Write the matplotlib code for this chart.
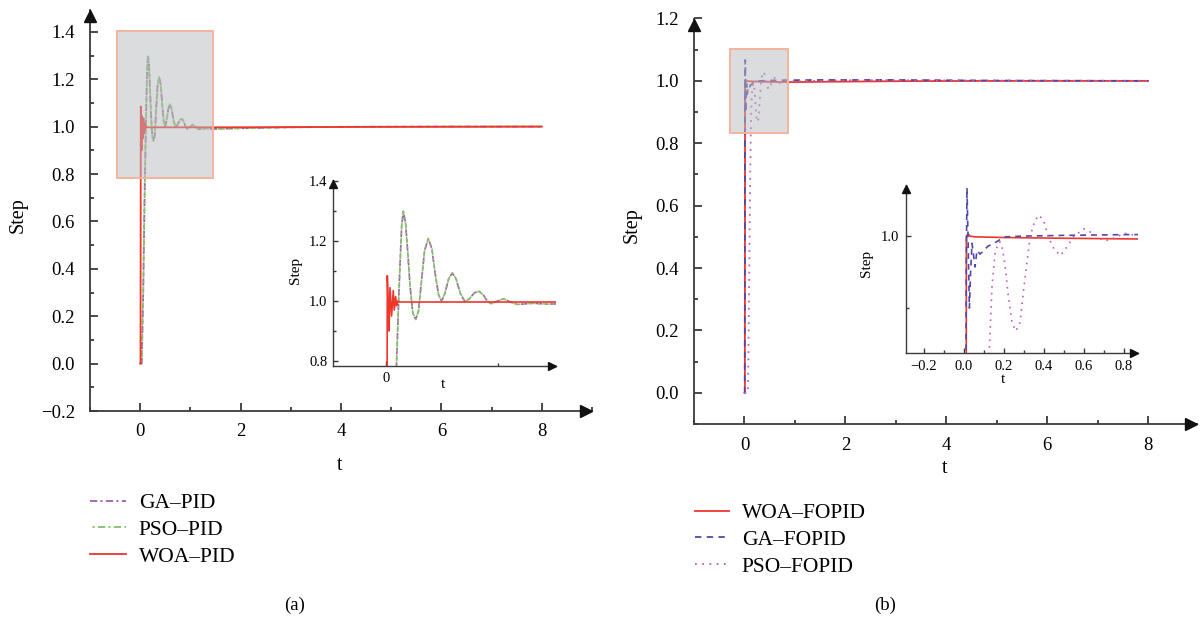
import matplotlib
matplotlib.use('Agg')
import matplotlib.pyplot as plt
from matplotlib.ticker import MultipleLocator, FormatStrFormatter
from matplotlib.patches import Rectangle
import matplotlib.transforms as mtrans

# ---------------- data ----------------
# (a) PID controllers
t_ga_pid = [0, 0.03, 0.06, 0.08, 0.095, 0.11, 0.125, 0.14, 0.155, 0.175,
            0.195, 0.215, 0.24, 0.265, 0.29, 0.315, 0.345, 0.378, 0.41, 0.44,
            0.47, 0.497, 0.525, 0.56, 0.592, 0.625, 0.665, 0.705, 0.745, 0.79,
            0.83, 0.87, 0.905, 0.94, 0.995, 1.05, 1.11, 1.17, 1.25, 1.32,
            1.43, 1.6, 2.0, 3.0, 4.0, 6.0, 8.0]
y_ga_pid = [0, 0, 0.3, 0.6, 0.8, 0.97, 1.12, 1.25, 1.3, 1.26,
            1.16, 1.05, 0.96, 0.939, 0.965, 1.06, 1.17, 1.209, 1.175, 1.09,
            1.02, 1.0, 1.025, 1.075, 1.094, 1.075, 1.025, 0.998, 1.008, 1.028,
            1.033, 1.02, 1.0, 0.991, 1.0, 1.008, 0.997, 0.989, 0.991, 0.993,
            0.99, 0.991, 0.993, 0.997, 0.999, 1.0, 1.0]
t_pso_pid = t_ga_pid
y_pso_pid = [0, 0, 0.3, 0.6, 0.8, 0.97, 1.12, 1.25, 1.3, 1.26,
             1.16, 1.05, 0.96, 0.939, 0.965, 1.06, 1.17, 1.209, 1.175, 1.09,
             1.02, 1.0, 1.025, 1.075, 1.094, 1.075, 1.025, 0.998, 1.008, 1.028,
             1.033, 1.02, 1.0, 0.991, 1.0, 1.008, 0.997, 0.989, 0.991, 0.993,
             0.99, 0.991, 0.993, 0.997, 0.999, 1.0, 1.0]
t_woa_pid = [0, 0.006, 0.012, 0.02, 0.027, 0.036, 0.05, 0.065, 0.074, 0.086,
             0.095, 0.105, 0.12, 0.5, 1.5, 3.0, 5.0, 8.0]
y_woa_pid = [0, 0, 1.085, 0.99, 0.9, 1.045, 0.95, 1.035, 0.97, 1.015,
             0.985, 1.0, 0.997, 0.997, 0.997, 0.998, 0.999, 1.0]

# (b) FOPID controllers
t_woa_fopid = [0, 0.008, 0.012, 0.02, 0.03, 0.05, 0.2, 0.5, 0.86, 1.5, 3.0, 5.0, 8.0]
y_woa_fopid = [0, 0, 1.0, 1.003, 1.0, 0.999, 0.998, 0.997, 0.996, 0.997, 0.999, 1.0, 1.0]
t_ga_fopid = [0, 0.006, 0.011, 0.015, 0.02, 0.027, 0.033, 0.04, 0.047, 0.055,
              0.065, 0.08, 0.1, 0.12, 0.15, 0.18, 0.21, 0.3, 0.5, 0.8,
              1.5, 3.0, 5.0, 8.0]
y_ga_fopid = [0, 0, 0.95, 1.067, 1.0, 0.90, 0.95, 0.99, 0.975, 0.957,
              0.98, 0.975, 0.98, 0.986, 0.99, 0.995, 0.999, 1.0, 1.001, 1.002,
              1.003, 1.003, 1.001, 1.0]
t_pso_fopid = [0, 0.07, 0.09, 0.11, 0.126, 0.14, 0.155, 0.17, 0.18, 0.19,
               0.205, 0.22, 0.24, 0.259, 0.28, 0.3, 0.331, 0.355, 0.376, 0.4,
               0.42, 0.45, 0.482, 0.515, 0.55, 0.6, 0.65, 0.7, 0.75, 0.8,
               0.86, 0.95, 1.1, 1.5, 2.0, 3.0, 5.0, 8.0]
y_pso_fopid = [0, 0, 0.3, 0.65, 0.838, 0.93, 0.975, 0.99, 0.992, 0.985,
               0.96, 0.92, 0.88, 0.868, 0.88, 0.93, 1.0, 1.022, 1.029, 1.02,
               1.0, 0.982, 0.973, 0.985, 1.0, 1.01, 1.003, 0.993, 0.997, 1.004,
               1.001, 0.998, 1.0, 1.0, 1.002, 1.002, 1.001, 1.0]

labels_a = ['GA–PID', 'PSO–PID', 'WOA–PID']
labels_b = ['WOA–FOPID', 'GA–FOPID', 'PSO–FOPID']

# ---------------- style ----------------
plt.rcParams['font.family'] = ['Liberation Serif', 'DejaVu Serif']
C_GA = '#a45ea8'
C_PSO = '#84c26a'
C_RED = '#f0352b'
C_BLUE = '#4e4aa6'
C_PINK = '#c45cc4'
SPINE = '#3a3a3a'

W, H = 1202, 620
fig = plt.figure(figsize=(W / 100, H / 100), dpi=100)


def rect(left, right, bottom, top):
    return [left / W, 1 - bottom / H, (right - left) / W, (bottom - top) / H]


def style(ax, ms, lw, tlen, tick_fs, pad):
    for s in ['top', 'right']:
        ax.spines[s].set_visible(False)
    for s in ['left', 'bottom']:
        ax.spines[s].set_color(SPINE)
        ax.spines[s].set_linewidth(lw)
    ax.tick_params(which='major', direction='in', length=tlen, width=lw,
                   color=SPINE, labelsize=tick_fs, pad=pad)
    ax.tick_params(which='minor', direction='in', length=tlen * 0.55, width=lw,
                   color=SPINE)
    tr_x = mtrans.offset_copy(ax.transAxes, fig=fig, x=-ms / 2, units='points')
    tr_y = mtrans.offset_copy(ax.transAxes, fig=fig, y=-ms / 2, units='points')
    ax.plot([1], [0], marker='>', ms=ms, color='#111111', transform=tr_x,
            clip_on=False, zorder=6)
    ax.plot([0], [1], marker='^', ms=ms, color='#111111', transform=tr_y,
            clip_on=False, zorder=6)


def box(ax, x0, x1, y0, y1):
    ax.add_patch(Rectangle((x0, y0), x1 - x0, y1 - y0, facecolor='#b8babe',
                           edgecolor='none', alpha=0.5, zorder=4))
    ax.add_patch(Rectangle((x0, y0), x1 - x0, y1 - y0, facecolor='none',
                           edgecolor='#f4b49c', lw=1.4, zorder=5))


def draw_pid(ax, lw):
    l1, = ax.plot(t_ga_pid, y_ga_pid, color=C_GA, lw=lw,
                  linestyle=(0, (4, 1.8, 1.2, 1.8)), label=labels_a[0])
    l2, = ax.plot(t_pso_pid, y_pso_pid, color=C_PSO, lw=lw,
                  linestyle=(4.4, (4, 1.8, 1.2, 1.8)), label=labels_a[1])
    l3, = ax.plot(t_woa_pid, y_woa_pid, color=C_RED, lw=lw, label=labels_a[2])
    return [l1, l2, l3]


def draw_fopid(ax, lw):
    l1, = ax.plot(t_woa_fopid, y_woa_fopid, color=C_RED, lw=lw, label=labels_b[0])
    l2, = ax.plot(t_ga_fopid, y_ga_fopid, color=C_BLUE, lw=lw,
                  linestyle=(0, (3.5, 3)), label=labels_b[1])
    l3, = ax.plot(t_pso_fopid, y_pso_fopid, color=C_PINK, lw=lw,
                  linestyle=(0, (1, 3)), label=labels_b[2])
    return [l1, l2, l3]


# ---------------- (a) main ----------------
axa = fig.add_axes(rect(90, 592, 411, 10))
axa.set_xlim(-1.0, 9.0)
axa.set_ylim(-0.2, 1.492)
ha = draw_pid(axa, 1.3)
style(axa, 9, 1.3, 5.5, 13.5, 11)
axa.xaxis.set_major_locator(MultipleLocator(2))
axa.xaxis.set_minor_locator(MultipleLocator(1))
axa.yaxis.set_major_locator(MultipleLocator(0.2))
axa.yaxis.set_minor_locator(MultipleLocator(0.1))
axa.tick_params(axis='x', pad=9)
axa.set_xlabel('t', fontsize=14.5)
axa.set_ylabel('Step', fontsize=14.5)
axa.xaxis.set_label_coords((340 - 90) / 502, -(456 - 411) / 401)
axa.yaxis.set_label_coords((28 - 90) / 502, (411 - 215) / 401)
box(axa, -0.46, 1.45, 0.782, 1.405)

# ---------------- (a) inset ----------------
axi = fig.add_axes(rect(333, 556, 366, 180))
axi.set_xlim(-0.473, 1.518)
axi.set_ylim(0.783, 1.405)
draw_pid(axi, 1.2)
style(axi, 6, 1.0, 3.5, 10.5, 4)
axi.xaxis.set_major_locator(MultipleLocator(2))
axi.xaxis.set_minor_locator(MultipleLocator(1))
axi.yaxis.set_major_locator(MultipleLocator(0.2))
axi.yaxis.set_minor_locator(MultipleLocator(0.1))
axi.yaxis.set_major_formatter(FormatStrFormatter('%.1f'))
axi.set_xlabel('t', fontsize=11)
axi.set_ylabel('Step', fontsize=11)
axi.xaxis.set_label_coords((443 - 333) / 223, -(378 - 366) / 186)
axi.yaxis.set_label_coords((302 - 333) / 223, (366 - 270) / 186)

# ---------------- (b) main ----------------
axb = fig.add_axes(rect(694, 1197, 424, 18.5))
axb.set_xlim(-1.0, 8.97)
axb.set_ylim(-0.1, 1.2)
hb = draw_fopid(axb, 1.3)
style(axb, 9, 1.3, 5.5, 13.5, 11)
axb.xaxis.set_major_locator(MultipleLocator(2))
axb.xaxis.set_minor_locator(MultipleLocator(1))
axb.yaxis.set_major_locator(MultipleLocator(0.2))
axb.yaxis.set_minor_locator(MultipleLocator(0.1))
axb.yaxis.set_major_formatter(FormatStrFormatter('%.1f'))
axb.tick_params(axis='x', pad=9)
axb.set_xlabel('t', fontsize=14.5)
axb.set_ylabel('Step', fontsize=14.5)
axb.xaxis.set_label_coords((945 - 694) / 503, -(459 - 424) / 405.5)
axb.yaxis.set_label_coords((642 - 694) / 503, (424 - 225) / 405.5)
box(axb, -0.28, 0.87, 0.834, 1.102)

# ---------------- (b) inset ----------------
axj = fig.add_axes(rect(906, 1138, 353, 185))
axj.set_xlim(-0.29, 0.87)
axj.set_ylim(0.8375, 1.071)
draw_fopid(axj, 1.2)
style(axj, 6, 1.0, 3.5, 10.5, 5)
axj.xaxis.set_major_locator(MultipleLocator(0.2))
axj.xaxis.set_minor_locator(MultipleLocator(0.1))
axj.yaxis.set_major_locator(MultipleLocator(0.2))
axj.yaxis.set_minor_locator(MultipleLocator(0.1))
axj.yaxis.set_major_formatter(FormatStrFormatter('%.1f'))
axj.set_xlabel('t', fontsize=11)
axj.set_ylabel('Step', fontsize=11)
axj.xaxis.set_label_coords((1003 - 906) / 232, -(373 - 353) / 168)
axj.yaxis.set_label_coords((873 - 906) / 232, (353 - 263) / 168)

# ---------------- legends & captions ----------------
fig.legend(handles=ha, loc='upper left', bbox_to_anchor=(90 / W, 1 - 493 / H),
           frameon=False, fontsize=15.5, handlelength=1.67, handletextpad=0.6,
           labelspacing=0.31, borderpad=0, borderaxespad=0)
fig.legend(handles=hb, loc='upper left', bbox_to_anchor=(695 / W, 1 - 503 / H),
           frameon=False, fontsize=15.5, handlelength=1.58, handletextpad=0.6,
           labelspacing=0.31, borderpad=0, borderaxespad=0)
fig.text(295 / W, 1 - 605 / H, '(a)', ha='center', va='center', fontsize=13.5)
fig.text(885 / W, 1 - 605 / H, '(b)', ha='center', va='center', fontsize=13.5)

fig.savefig('out.png', dpi=100)
